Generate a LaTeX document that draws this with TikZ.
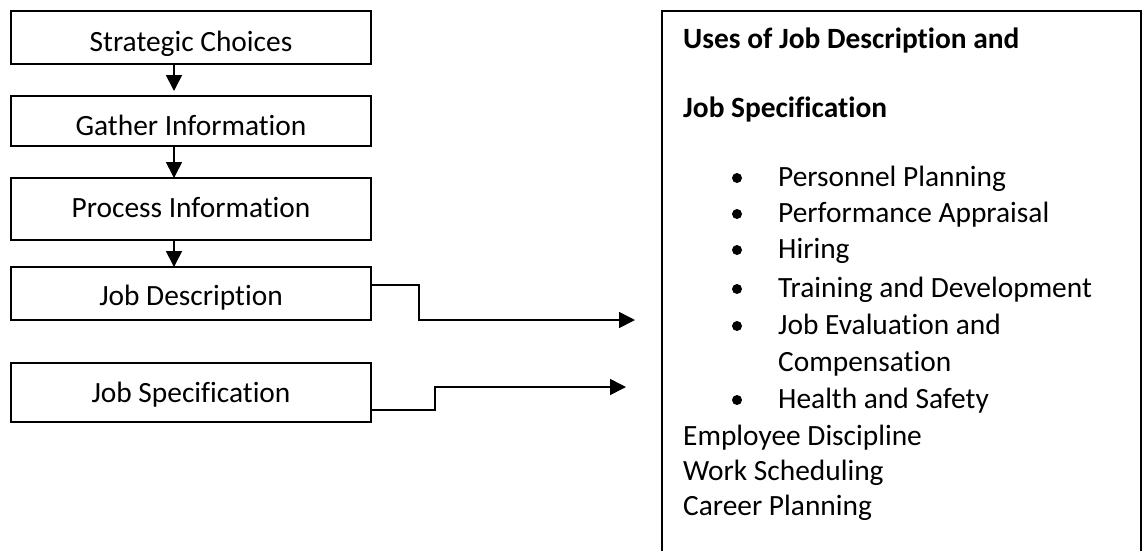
\documentclass[tikz,border=0pt]{standalone}
\usepackage{fontspec}
\setmainfont[Ligatures=NoCommon]{Carlito}
\usetikzlibrary{arrows.meta}
\begin{document}
\begin{tikzpicture}[x=1pt,y=-1pt,
  box/.style={draw, line width=2pt, minimum width=360pt, inner sep=0pt, outer sep=0pt},
  txt/.style={font=\fontsize{29.4}{36.6}\selectfont, inner sep=0pt, anchor=base},
  ltxt/.style={txt, anchor=base west},
  htxt/.style={ltxt, font=\fontsize{29.4}{36.6}\selectfont\bfseries},
  conn/.style={line width=1.6pt, -{Triangle[length=16pt,width=16pt]}},
  bul/.style={fill=black}]
\useasboundingbox (0,0) rectangle (1143,550);
% left flow boxes
\node[box, minimum height=53pt] (b1) at (191,37.5) {};
\node[box, minimum height=50pt] (b2) at (191,121) {};
\node[box, minimum height=62pt] (b3) at (191,209) {};
\node[box, minimum height=53pt] (b4) at (191,293.5) {};
\node[box, minimum height=59pt] (b5) at (191,392.5) {};
\node[txt] (t1) at (191,51) {Strategic Choices};
\node[txt] (t2) at (191,135) {Gather Information};
\node[txt] (t3) at (191,217) {Process Information};
\node[txt] (t4) at (191,305) {Job Description};
\node[txt] (t5) at (191,402) {Job Specification};
% vertical arrows
\draw[conn] ([xshift=-17pt]b1.south) -- ([xshift=-17pt,yshift=5pt]b2.north);
\draw[conn] ([xshift=-17pt]b2.south) -- ([xshift=-17pt]b3.north);
\draw[conn] ([xshift=-17pt]b3.south) -- ([xshift=-17pt]b4.north);
% right box
\node[draw, line width=2pt, minimum width=479pt, minimum height=549pt, inner sep=0pt, outer sep=0pt] (uses) at (901.5,285.5) {};
\coordinate (a1) at (635,320);
\coordinate (a2) at (626,387);
\draw[conn] ([yshift=8.5pt]b4.east) -- (419,285) -- (419,320) -- (a1);
\draw[conn] ([yshift=-17.5pt]b5.east) -- (435,410) -- (435,387) -- (a2);
% right texts
\node[htxt] (h1) at (683,48) {Uses of Job Description and};
\node[htxt] (h2) at (683,117) {Job Specification};
\node[ltxt] (i1) at (778,186) {Personnel Planning};
\node[ltxt] (i2) at (778,222) {Performance Appraisal};
\node[ltxt] (i3) at (778,258) {Hiring};
\node[ltxt] (i4) at (778,297) {Training and Development};
\node[ltxt] (i5) at (778,334) {Job Evaluation and};
\node[ltxt] (i5b) at (778,371) {Compensation};
\node[ltxt] (i6) at (778,408) {Health and Safety};
\node[ltxt] (e1) at (683,445) {Employee Discipline};
\node[ltxt] (e2) at (683,480) {Work Scheduling};
\node[ltxt] (e3) at (683,515) {Career Planning};
\foreach \yy in {186,222,258,297,334,408} {
  \fill[bul] (737,\yy-8) circle (5pt);
}
\end{tikzpicture}
\end{document}
